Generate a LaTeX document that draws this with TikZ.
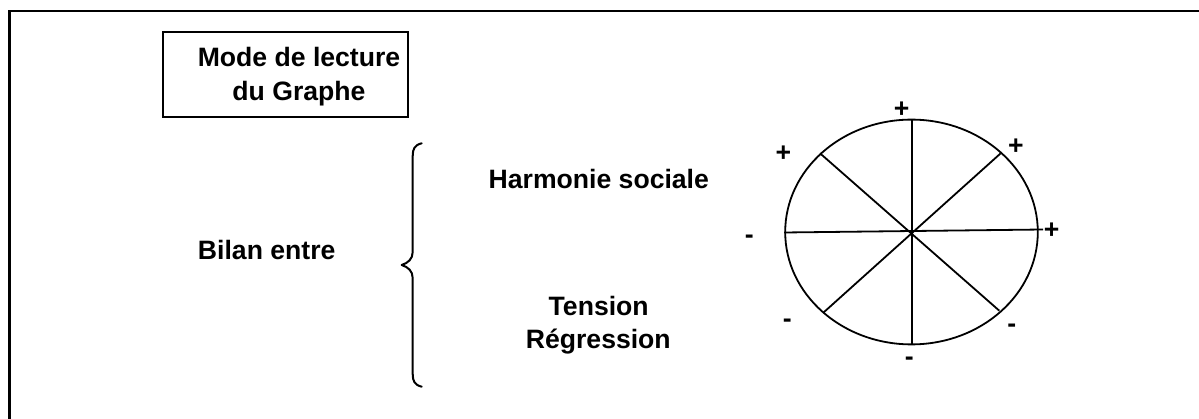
\documentclass[tikz,border=0pt]{standalone}
\usepackage{fontspec}
\setmainfont{Liberation Sans}
\begin{document}
\begin{tikzpicture}[x=1pt,y=-1pt,
  lbl/.style={font=\fontsize{26.6}{32}\selectfont\bfseries, inner sep=0pt, anchor=base},
  frame/.style={line width=2.2pt},
  titlebox/.style={draw, line width=2pt, inner sep=0pt, minimum width=245pt, minimum height=85pt},
  rim/.style={line width=1.8pt},
  spoke/.style={line width=1.8pt},
  bracestroke/.style={line width=2pt, line cap=round, line join=round}]
\useasboundingbox (0,0) rectangle (1199,419);

% outer frame (only its top and left sides are in view)
\coordinate (fbl) at (9.5,419);
\coordinate (ftl) at (9.5,11.2);
\coordinate (ftr) at (1199,11.2);
\draw[frame] (fbl) -- (ftl) -- (ftr);

% title box
\node[titlebox] (box) at (285.5,74.5) {};
\node[lbl] (title1) at (299,66.7) {Mode de lecture};
\node[lbl] (title2) at (299,101) {du Graphe};

% left label and brace
\node[lbl] (bilan) at (266.7,260) {Bilan entre};
\draw[bracestroke] (421.7,143.3) .. controls (414.5,145) and (412.7,149) .. (412.7,156)
  -- (412.7,252) .. controls (412.7,259) and (408,263) .. (401.7,265)
  .. controls (408,267) and (412.7,271) .. (412.7,278)
  -- (412.7,374) .. controls (412.7,381) and (414.5,385) .. (421.7,386.7);

% the two alternatives
\node[lbl] (harmonie) at (598.8,188.3) {Harmonie sociale};
\node[lbl] (tension) at (598.7,316) {Tension};
\node[lbl] (regression) at (598.3,348.3) {Régression};

% wheel
\coordinate (c) at (911.5,232);
\draw[rim] (c) ellipse [x radius=126.3pt, y radius=112.4pt];
\coordinate (w) at (784,232.5);
\coordinate (e) at (1043,229.5);
\coordinate (n) at (912,119.5);
\coordinate (s) at (912,344);
\coordinate (nw) at (820,153.3);
\coordinate (se) at (999.3,310.7);
\coordinate (ne) at (1000.7,153.3);
\coordinate (sw) at (823.3,312.7);
\draw[spoke] (w) -- (e);
\draw[spoke] (n) -- (s);
\draw[spoke] (nw) -- (se);
\draw[spoke] (ne) -- (sw);

% signs round the wheel
\node[lbl] (pn)  at (901.7,117.2) {+};
\node[lbl] (pne) at (1016,154.4) {+};
\node[lbl] (pe)  at (1051.7,238.7) {+};
\node[lbl] (pnw) at (783.3,161.1) {+};
\node[lbl] (mw)  at (749.3,244) {-};
\node[lbl] (msw) at (787.3,328) {-};
\node[lbl] (ms)  at (909.3,366) {-};
\node[lbl] (mse) at (1011.7,332.3) {-};
\end{tikzpicture}
\end{document}
